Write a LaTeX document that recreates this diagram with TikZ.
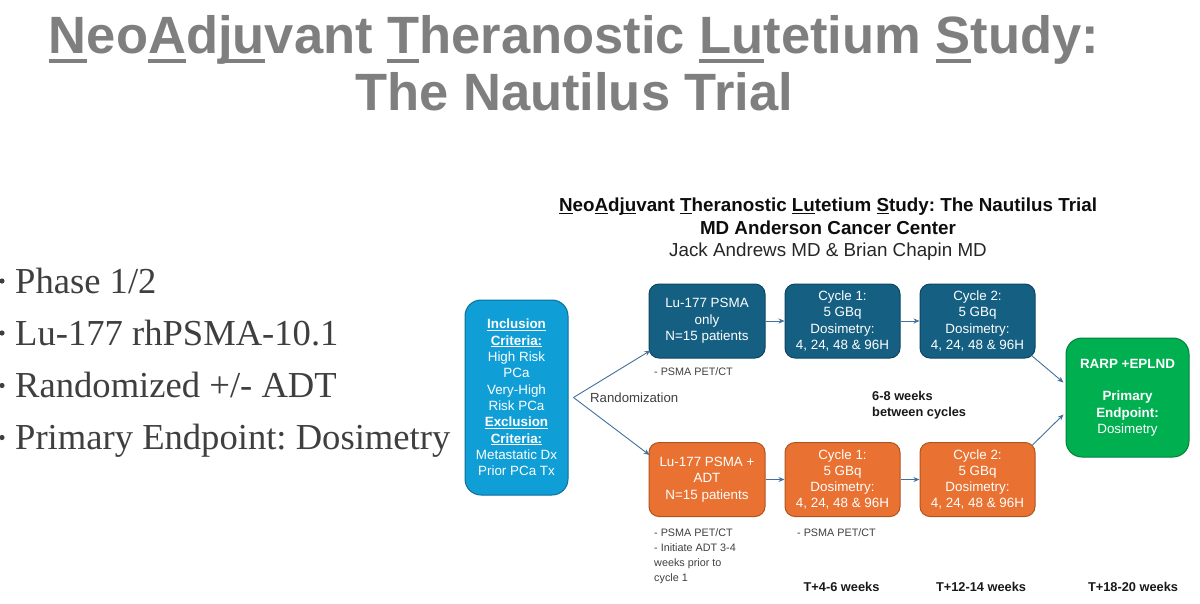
\documentclass[tikz,border=0pt]{standalone}
\usepackage{fontspec}
\setmainfont{Liberation Sans}
\newfontfamily\bulletserif{Liberation Serif}
\usetikzlibrary{arrows.meta}
\definecolor{titlegray}{HTML}{7F7F7F}
\definecolor{bulletgray}{HTML}{3F3F3F}
\definecolor{lblgray}{HTML}{404040}
\definecolor{inclfill}{HTML}{0F9ED5}
\definecolor{incldraw}{HTML}{0B6F98}
\definecolor{dbluefill}{HTML}{156082}
\definecolor{dbluedraw}{HTML}{0E4560}
\definecolor{orangefill}{HTML}{E97132}
\definecolor{orangedraw}{HTML}{B0541F}
\definecolor{greenfill}{HTML}{00B050}
\definecolor{greendraw}{HTML}{00803A}
\definecolor{connblue}{HTML}{41719C}
\newcommand\myul[3]{\setbox0\hbox{#1}\rlap{\rule[-#2]{\wd0}{#3}}\box0}
\frenchspacing
\begin{document}
\begin{tikzpicture}[x=1pt,y=-1pt,
  bigtitle/.style={anchor=base, inner sep=0pt, text=titlegray, font=\fontsize{52.5}{57}\selectfont\bfseries},
  bulletline/.style={anchor=base west, inner sep=0pt, text=bulletgray, font=\bulletserif\fontsize{36.6}{40}\selectfont},
  bulletdot/.style={fill=bulletgray},
  headline/.style={anchor=base, inner sep=0pt, font=\fontsize{18.8}{22}\selectfont},
  box/.style={rounded corners=10pt, line width=1pt, text=white, align=center, inner sep=2pt, font=\fontsize{13.4}{16.3}\selectfont},
  conn/.style={draw=connblue, line width=0.9pt, -{Stealth[length=6pt,width=5pt]}},
  lbl/.style={anchor=base west, inner sep=0pt, text=lblgray, font=\fontsize{10.8}{15}\selectfont},
  wk/.style={inner sep=0pt, text=black!90, font=\fontsize{12.8}{16}\selectfont\bfseries}
]
\useasboundingbox (0,0) rectangle (1200,603);
\fill[white] (0,0) rectangle (1200,603);

% main title
\node[bigtitle] (t1) at (574,53) {\myul{N}{10pt}{4pt}eo\myul{A}{10pt}{4pt}d\myul{ju}{10pt}{4pt}vant \myul{T}{10pt}{4pt}heranostic \myul{Lu}{10pt}{4pt}tetium \myul{S}{10pt}{4pt}tudy:};
\node[bigtitle] (t2) at (574,110) {The Nautilus Trial};

% bullets
\fill[bulletdot] (2,281) circle[radius=2.6];
\node[bulletline] (b1) at (15,293) {Phase 1/2};
\fill[bulletdot] (2,333) circle[radius=2.6];
\node[bulletline] (b2) at (15,345) {Lu-177 rhPSMA-10.1};
\fill[bulletdot] (2,385.5) circle[radius=2.6];
\node[bulletline] (b3) at (15,397.5) {Randomized +/- ADT};
\fill[bulletdot] (2,437.5) circle[radius=2.6];
\node[bulletline] (b4) at (15,449.5) {Primary Endpoint: Dosimetry};

% diagram heading
\node[headline, font=\fontsize{18.8}{22}\selectfont\bfseries, text=black!95] (h1) at (828,211) {\myul{N}{2.5pt}{1pt}eo\myul{A}{2.5pt}{1pt}d\myul{ju}{2.5pt}{1pt}vant \myul{T}{2.5pt}{1pt}heranostic \myul{Lu}{2.5pt}{1pt}tetium \myul{S}{2.5pt}{1pt}tudy: The Nautilus Trial};
\node[headline, font=\fontsize{18.8}{22}\selectfont\bfseries, text=black!95] (h2) at (828,234) {MD Anderson Cancer Center};
\node[headline, text=black!85] (h3) at (828,256.5) {Jack Andrews MD \& Brian Chapin MD};

% boxes
\node[box, fill=inclfill, draw=incldraw, minimum width=103pt, minimum height=195pt, rounded corners=16pt] (incl) at (516.5,397.5)
 {\myul{\textbf{Inclusion}}{2pt}{0.8pt}\\\myul{\textbf{Criteria:}}{2pt}{0.8pt}\\High Risk\\PCa\\Very-High\\Risk PCa\\\myul{\textbf{Exclusion}}{2pt}{0.8pt}\\\myul{\textbf{Criteria:}}{2pt}{0.8pt}\\Metastatic Dx\\Prior PCa Tx};

\node[box, fill=dbluefill, draw=dbluedraw, minimum width=116pt, minimum height=74pt] (armA) at (707,321) {Lu-177 PSMA\\only\\N=15 patients};
\node[box, fill=dbluefill, draw=dbluedraw, minimum width=115pt, minimum height=74pt] (cyc1t) at (842.5,321) {Cycle 1:\\5 GBq\\Dosimetry:\\4, 24, 48 \& 96H};
\node[box, fill=dbluefill, draw=dbluedraw, minimum width=115pt, minimum height=74pt] (cyc2t) at (977.5,321) {Cycle 2:\\5 GBq\\Dosimetry:\\4, 24, 48 \& 96H};

\node[box, fill=orangefill, draw=orangedraw, minimum width=116pt, minimum height=74pt] (armB) at (707,479.5) {Lu-177 PSMA +\\ADT\\N=15 patients};
\node[box, fill=orangefill, draw=orangedraw, minimum width=115pt, minimum height=74pt] (cyc1b) at (842.5,479.5) {Cycle 1:\\5 GBq\\Dosimetry:\\4, 24, 48 \& 96H};
\node[box, fill=orangefill, draw=orangedraw, minimum width=115pt, minimum height=74pt] (cyc2b) at (977.5,479.5) {Cycle 2:\\5 GBq\\Dosimetry:\\4, 24, 48 \& 96H};

\node[box, fill=greenfill, draw=greendraw, minimum width=123pt, minimum height=119pt, rounded corners=16pt] (green) at (1127.5,397.5)
 {\textbf{RARP +EPLND}\\[16.3pt]\textbf{Primary}\\\textbf{Endpoint:}\\Dosimetry};

% connectors
\coordinate (split) at ([xshift=5pt]incl.east);
\draw[conn] (split) -- ([xshift=2pt,yshift=8pt]armA.south west);
\draw[conn] (split) -- ([xshift=1pt,yshift=-13pt]armB.north west);
\draw[conn] (armA) -- (cyc1t);
\draw[conn] (cyc1t) -- (cyc2t);
\draw[conn] (armB) -- (cyc1b);
\draw[conn] (cyc1b) -- (cyc2b);
\draw[conn] ([xshift=-4pt,yshift=3pt]cyc2t.south east) -- ([xshift=-2pt,yshift=15pt]green.west);
\draw[conn] ([xshift=-3pt,yshift=-3pt]cyc2b.north east) -- ([xshift=-2pt,yshift=-17pt]green.west);

% labels
\node[anchor=base west, inner sep=0pt, text=lblgray, font=\fontsize{13.2}{16}\selectfont] (rand) at (590,402.5) {Randomization};
\node[lbl] (pA) at (654,375) {- PSMA PET/CT};
\node[lbl] (pB1) at (654,536) {- PSMA PET/CT};
\node[lbl] (pB2) at (654,551) {- Initiate ADT 3-4};
\node[lbl] (pB3) at (654,566) {weeks prior to};
\node[lbl] (pB4) at (654,581) {cycle 1};
\node[lbl] (pC) at (797,536) {- PSMA PET/CT};

\node[wk, anchor=base west] (w1) at (872,400.5) {6-8 weeks};
\node[wk, anchor=base west] (w2) at (872,416.5) {between cycles};

\node[wk, anchor=base] (tA) at (841.5,591) {T+4-6 weeks};
\node[wk, anchor=base] (tB) at (981,591) {T+12-14 weeks};
\node[wk, anchor=base] (tC) at (1133,591) {T+18-20 weeks};
\end{tikzpicture}
\end{document}
